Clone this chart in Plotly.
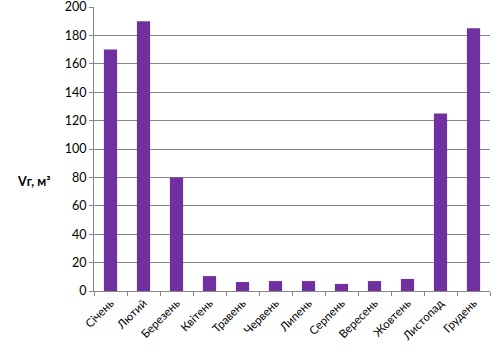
import plotly.graph_objects as go

months = ["Січень", "Лютий", "Березень", "Квітень", "Травень", "Червень",
          "Липень", "Серпень", "Вересень", "Жовтень", "Листопад", "Грудень"]
vg = [170, 190, 80, 10.5, 6.3, 7, 7, 5, 7, 8.5, 125, 185]
y_ticks = [0, 20, 40, 60, 80, 100, 120, 140, 160, 180, 200]

grid = "#868686"
fig = go.Figure(go.Bar(x=months, y=vg, marker=dict(color="#7030A0", line=dict(width=0)),
                       width=0.4))
fig.update_layout(
    width=500, height=362,
    margin=dict(l=94, r=10, t=7, b=71, autoexpand=False),
    plot_bgcolor="white", paper_bgcolor="white",
    showlegend=False,
    font=dict(family="Lato, sans-serif", color="#000000"),
)
fig.update_yaxes(range=[0, 200], tickvals=y_ticks, showgrid=True, gridcolor=grid, gridwidth=1,
                 showline=True, linecolor=grid, linewidth=1, ticks="outside", ticklen=4,
                 tickcolor=grid, tickfont=dict(size=12.5), zeroline=False,
                 automargin=False, ticklabeloverflow="allow")
fig.update_xaxes(showline=True, linecolor=grid, linewidth=1, ticks="outside", ticklen=4,
                 tickcolor=grid, tickson="boundaries", tickangle=-45,
                 tickfont=dict(size=11.5), range=[-0.5, 11.5], automargin=False,
                 ticklabeloverflow="allow")
fig.add_annotation(text="<b>Vг, м³</b>", xref="paper", yref="paper", x=-0.105, y=0.385,
                   xanchor="right", yanchor="middle", showarrow=False, font=dict(size=12.5))
fig.write_html("out.html", config={"displayModeBar": False},
               post_script="document.body.style.margin='0';")
